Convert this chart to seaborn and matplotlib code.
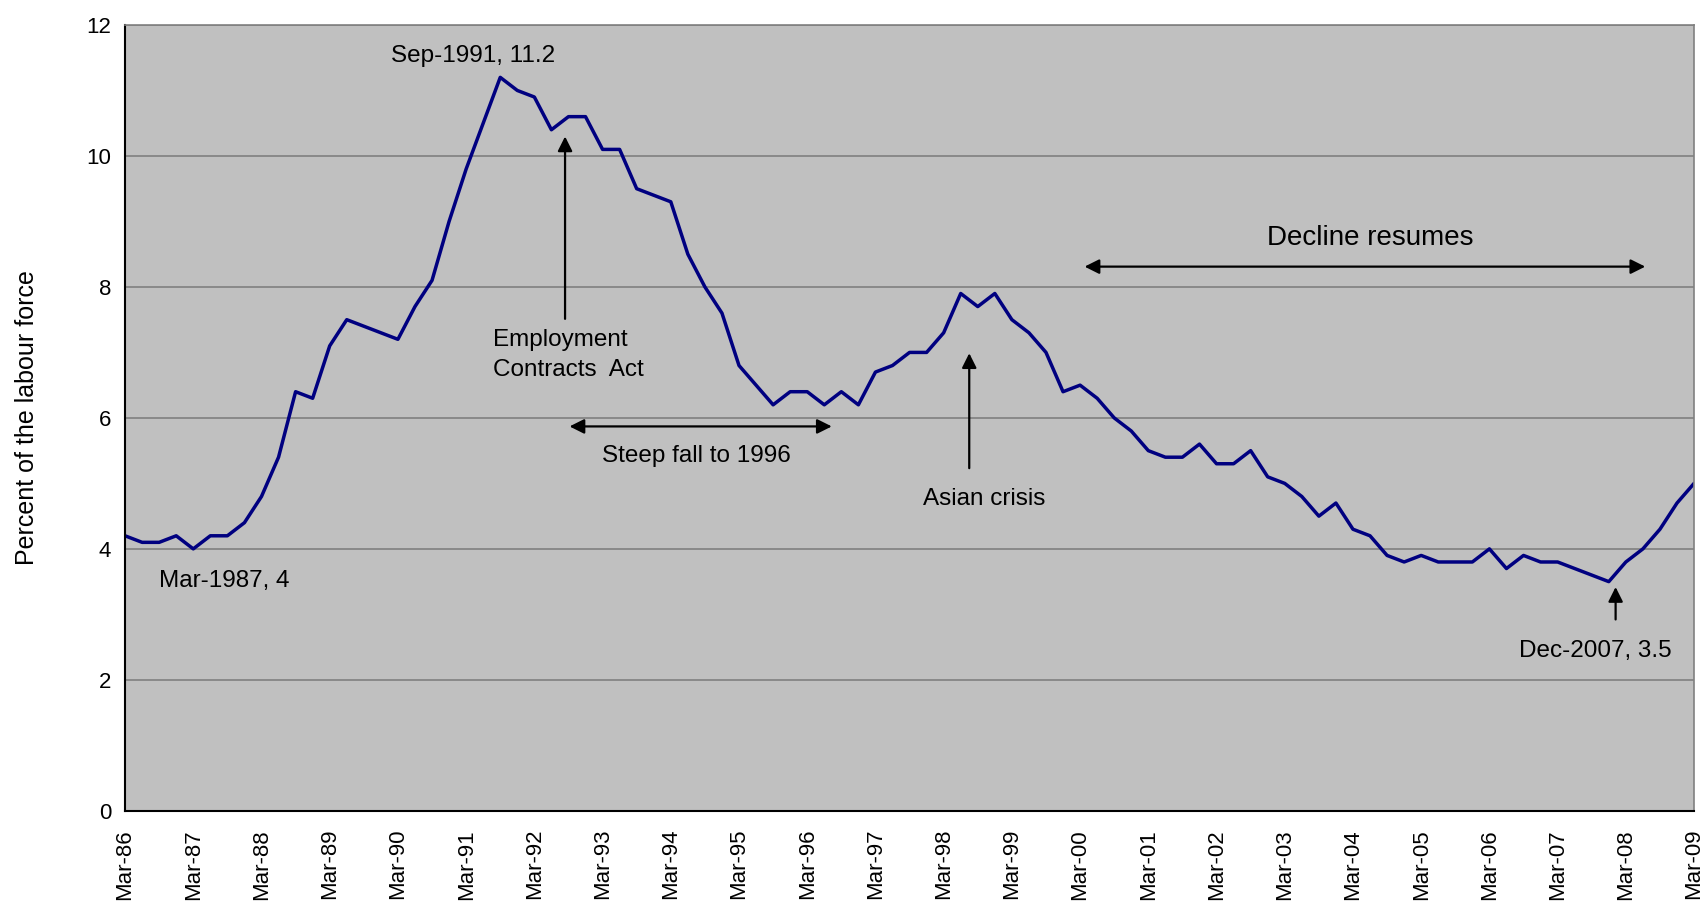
import numpy as np
import pandas as pd
import seaborn as sns
import matplotlib.pyplot as plt

# quarterly unemployment rate, Mar-86 .. Mar-09
rate = [4.2, 4.1, 4.1, 4.2, 4.0, 4.2, 4.2, 4.4, 4.8, 5.4, 6.4, 6.3,
        7.1, 7.5, 7.4, 7.3, 7.2, 7.7, 8.1, 9.0, 9.8, 10.5, 11.2, 11.0,
        10.9, 10.4, 10.6, 10.6, 10.1, 10.1, 9.5, 9.4, 9.3, 8.5, 8.0, 7.6,
        6.8, 6.5, 6.2, 6.4, 6.4, 6.2, 6.4, 6.2, 6.7, 6.8, 7.0, 7.0,
        7.3, 7.9, 7.7, 7.9, 7.5, 7.3, 7.0, 6.4, 6.5, 6.3, 6.0, 5.8,
        5.5, 5.4, 5.4, 5.6, 5.3, 5.3, 5.5, 5.1, 5.0, 4.8, 4.5, 4.7,
        4.3, 4.2, 3.9, 3.8, 3.9, 3.8, 3.8, 3.8, 4.0, 3.7, 3.9, 3.8,
        3.8, 3.7, 3.6, 3.5, 3.8, 4.0, 4.3, 4.7, 5.0]
years = ['86', '87', '88', '89', '90', '91', '92', '93', '94', '95', '96', '97',
         '98', '99', '00', '01', '02', '03', '04', '05', '06', '07', '08', '09']
tick_labels = ['Mar-' + y for y in years]

df = pd.DataFrame({'q': np.arange(len(rate)), 'rate': rate})

sns.set_style('white')
plt.rcParams['font.family'] = ['Liberation Sans', 'DejaVu Sans']
plt.rcParams['text.color'] = 'black'
plt.rcParams['xtick.color'] = 'black'
plt.rcParams['ytick.color'] = 'black'
plt.rcParams['axes.labelcolor'] = 'black'

fig = plt.figure(figsize=(17.06, 9.08), dpi=100)
ax = fig.add_axes([0.0733, 0.107, 0.9197, 0.8655])
ax.set_facecolor('#C0C0C0')

sns.lineplot(data=df, x='q', y='rate', color='#000080', linewidth=2.5, ax=ax)

ax.set_xlim(0, len(rate) - 1)
ax.set_ylim(0, 12)
ax.set_yticks(range(0, 13, 2))
ax.set_xticks(np.arange(0, len(rate), 4))
ax.set_xticklabels(tick_labels, rotation=90, fontsize=16)
ax.tick_params(axis='y', labelsize=16, length=6, width=1.2, direction='out', pad=4)
ax.tick_params(axis='x', length=6, width=1.2, direction='out', pad=7)
ax.yaxis.grid(True, color='#808080', linewidth=1.2)
ax.set_axisbelow(True)
ax.set_xlabel('')
ax.set_ylabel('Percent of the labour force', fontsize=18, labelpad=34)

for side in ['left', 'bottom']:
    ax.spines[side].set_color('black')
    ax.spines[side].set_linewidth(1.5)
for side in ['top', 'right']:
    ax.spines[side].set_color('#808080')
    ax.spines[side].set_linewidth(1.2)

fs = 17.5
ax.text(20.4, 11.52, 'Sep-1991, 11.2', ha='center', va='center', fontsize=fs)
ax.text(2.0, 3.51, 'Mar-1987, 4', ha='left', va='center', fontsize=fs)

arr = dict(arrowstyle='-|>', color='black', lw=1.6, mutation_scale=22)
darr = dict(arrowstyle='<|-|>', color='black', lw=1.6, mutation_scale=22)

ax.annotate('', xy=(25.8, 10.34), xytext=(25.8, 7.47), arrowprops=arr)
ax.text(21.6, 6.96, 'Employment\nContracts  Act', ha='left', va='center',
        fontsize=fs, linespacing=1.45)

ax.annotate('', xy=(25.9, 5.87), xytext=(41.6, 5.87), arrowprops=darr)
ax.text(33.5, 5.42, 'Steep fall to 1996', ha='center', va='center', fontsize=fs)

ax.annotate('', xy=(49.5, 7.03), xytext=(49.5, 5.19), arrowprops=arr)
ax.text(50.4, 4.76, 'Asian crisis', ha='center', va='center', fontsize=fs)

ax.annotate('', xy=(56.1, 8.31), xytext=(89.3, 8.31), arrowprops=darr)
ax.text(73.0, 8.74, 'Decline resumes', ha='center', va='center', fontsize=20)

ax.annotate('', xy=(87.4, 3.46), xytext=(87.4, 2.88), arrowprops=arr)
ax.text(86.2, 2.44, 'Dec-2007, 3.5', ha='center', va='center', fontsize=fs)

fig.savefig('out.png', dpi=100, facecolor='white')
